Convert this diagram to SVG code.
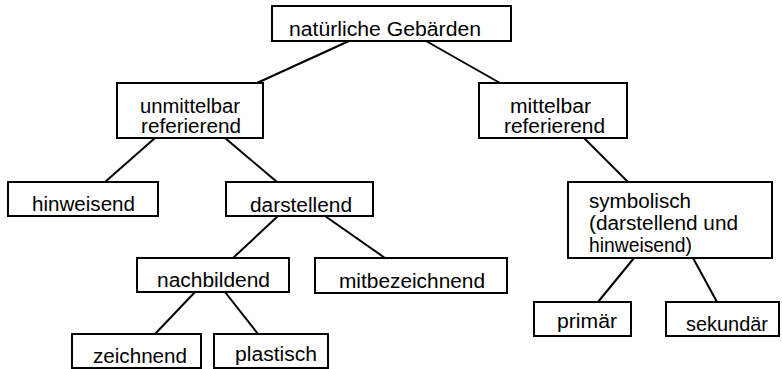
<svg xmlns="http://www.w3.org/2000/svg" width="782" height="369" viewBox="0 0 782 369">
<style>
.box{fill:#fff;stroke:#000;stroke-width:2}
.t{font-family:"Liberation Sans",Arial,sans-serif;font-size:20px;fill:#000}
.c line{stroke:#000;stroke-width:2}
</style>
<rect width="782" height="369" fill="#fff"/>
<g class="c" id="connectors">
<line x1="349" y1="41" x2="257" y2="83"/>
<line x1="426" y1="41" x2="500" y2="83"/>
<line x1="155" y1="138" x2="105" y2="182"/>
<line x1="225" y1="138" x2="277" y2="182"/>
<line x1="584" y1="138" x2="628" y2="182"/>
<line x1="278" y1="216" x2="233" y2="258"/>
<line x1="325" y1="216" x2="385" y2="258"/>
<line x1="195" y1="292" x2="155" y2="334"/>
<line x1="225" y1="292" x2="258" y2="334"/>
<line x1="634" y1="258" x2="598" y2="302"/>
<line x1="693" y1="258" x2="717" y2="302"/>
</g>
<g id="n-root"><rect class="box" x="272" y="6" width="239" height="35"/><text class="t" x="289" y="36" textLength="192" lengthAdjust="spacingAndGlyphs">natürliche Gebärden</text></g>
<g id="n-unmittelbar"><rect class="box" x="117" y="83" width="146" height="55"/><text class="t" x="140" y="113" textLength="100" lengthAdjust="spacingAndGlyphs">unmittelbar</text><text class="t" x="141" y="133" textLength="100" lengthAdjust="spacingAndGlyphs">referierend</text></g>
<g id="n-mittelbar"><rect class="box" x="479" y="83" width="148" height="55"/><text class="t" x="510" y="113" textLength="81" lengthAdjust="spacingAndGlyphs">mittelbar</text><text class="t" x="504" y="133" textLength="101" lengthAdjust="spacingAndGlyphs">referierend</text></g>
<g id="n-hinweisend"><rect class="box" x="8" y="182" width="150" height="34"/><text class="t" x="32" y="211" textLength="103" lengthAdjust="spacingAndGlyphs">hinweisend</text></g>
<g id="n-darstellend"><rect class="box" x="226" y="182" width="147" height="34"/><text class="t" x="250" y="212" textLength="102" lengthAdjust="spacingAndGlyphs">darstellend</text></g>
<g id="n-symbolisch"><rect class="box" x="568" y="182" width="204" height="76"/><text class="t" x="589" y="208" textLength="102" lengthAdjust="spacingAndGlyphs">symbolisch</text><text class="t" x="589" y="230" textLength="149" lengthAdjust="spacingAndGlyphs">(darstellend und</text><text class="t" x="589" y="252" textLength="103" lengthAdjust="spacingAndGlyphs">hinweisend)</text></g>
<g id="n-nachbildend"><rect class="box" x="137" y="258" width="152" height="34"/><text class="t" x="157" y="287" textLength="113" lengthAdjust="spacingAndGlyphs">nachbildend</text></g>
<g id="n-mitbezeichnend"><rect class="box" x="315" y="258" width="192" height="35"/><text class="t" x="339" y="288" textLength="146" lengthAdjust="spacingAndGlyphs">mitbezeichnend</text></g>
<g id="n-zeichnend"><rect class="box" x="72" y="334" width="129" height="34"/><text class="t" x="93" y="363" textLength="94" lengthAdjust="spacingAndGlyphs">zeichnend</text></g>
<g id="n-plastisch"><rect class="box" x="214" y="334" width="114" height="34"/><text class="t" x="235" y="361" textLength="82" lengthAdjust="spacingAndGlyphs">plastisch</text></g>
<g id="n-primaer"><rect class="box" x="534" y="302" width="97" height="34"/><text class="t" x="557" y="328" textLength="60" lengthAdjust="spacingAndGlyphs">primär</text></g>
<g id="n-sekundaer"><rect class="box" x="666" y="302" width="113" height="34"/><text class="t" x="686" y="331" textLength="82" lengthAdjust="spacingAndGlyphs">sekundär</text></g>
</svg>
